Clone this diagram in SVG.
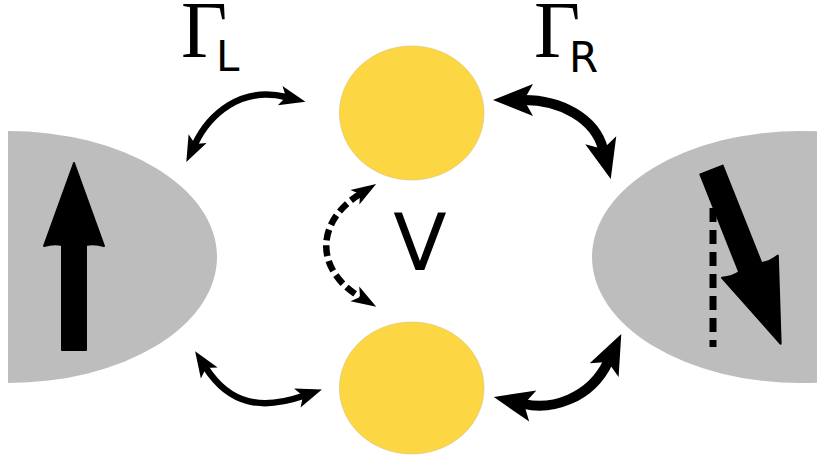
<svg xmlns="http://www.w3.org/2000/svg" width="817" height="459" viewBox="0 0 817 459">
  <style>
    .lead { fill: #bdbdbd; }
    .dot { fill: #fdd643; stroke: #d9c27a; stroke-width: 0.6; }
    .spin { fill: #000; stroke: #000; stroke-width: 2; stroke-linejoin: round; }
    .thin { fill: none; stroke: #000; stroke-width: 6.5; }
    .thick { fill: none; stroke: #000; stroke-width: 10; }
    .dash { fill: none; stroke: #000; stroke-width: 6.5; stroke-dasharray: 11 5; }
    .serif { font-family: "Liberation Serif", "DejaVu Serif", serif; fill: #000; }
    .sans { font-family: "DejaVu Sans", "Liberation Sans", sans-serif; fill: #000; }
  </style>
  <defs>
    <marker id="hs" markerUnits="userSpaceOnUse" markerWidth="30" markerHeight="24" viewBox="0 -12 30 24" refX="6" refY="0" orient="auto-start-reverse" overflow="visible">
      <path d="M0,-10 L26,0 L0,10 L6,0 Z" fill="#000"/>
    </marker>
    <marker id="hb" markerUnits="userSpaceOnUse" markerWidth="44" markerHeight="36" viewBox="0 -18 44 36" refX="9" refY="0" orient="auto-start-reverse" overflow="visible">
      <path d="M0,-16 L40,0 L0,16 L9,0 Z" fill="#000"/>
    </marker>
    <marker id="hd" markerUnits="userSpaceOnUse" markerWidth="30" markerHeight="20" viewBox="0 -10 30 20" refX="6" refY="0" orient="auto-start-reverse" overflow="visible">
      <path d="M0,-8.5 L25,0 L0,8.5 L6,0 Z" fill="#000"/>
    </marker>
    <path id="spinArrow" d="M-12,0 L-12,-105 Q-20,-107 -30,-104 L0,-187 L30,-104 Q20,-107 12,-105 L12,0 Z"/>
  </defs>

  <g id="lead-left">
    <path class="lead" d="M8,131 A209,126 0 0 1 8,383 Z"/>
    <use href="#spinArrow" class="spin" transform="translate(74,350)"/>
  </g>

  <g id="lead-right">
    <ellipse class="lead" cx="801" cy="257" rx="209" ry="126"/>
    <line x1="713" y1="186" x2="713" y2="347" stroke="#000" stroke-width="7" stroke-dasharray="14 8"/>
    <use href="#spinArrow" class="spin" transform="translate(711.5,170) rotate(158.3)"/>
  </g>

  <g id="dot-top">
    <ellipse class="dot" cx="411.7" cy="113" rx="72.3" ry="67"/>
  </g>

  <g id="dot-bottom">
    <ellipse class="dot" cx="411.7" cy="388" rx="72.3" ry="66"/>
  </g>

  <g id="labels">
    <text class="serif" x="181" y="57" font-size="80">Γ</text>
    <text class="sans" x="216" y="71" font-size="42">L</text>
    <text class="serif" x="534" y="57" font-size="80">Γ</text>
    <text class="sans" x="569" y="72" font-size="42">R</text>
    <text class="sans" x="420" y="270" font-size="78" text-anchor="middle">V</text>
  </g>

  <g id="connectors">
    <path class="thin" d="M195,144 C209,115 240,86 286,97" marker-start="url(#hs)" marker-end="url(#hs)"/>
    <path class="thick" d="M524,100 C560,100 595,118 603,149" marker-start="url(#hb)" marker-end="url(#hb)"/>
    <path class="thin" d="M206,368 C230,405 262,410 303,396" marker-start="url(#hs)" marker-end="url(#hs)"/>
    <path class="thick" d="M524,404 C550,410 590,400 608,362" marker-start="url(#hb)" marker-end="url(#hb)"/>
    <path class="dash" d="M360,194 C315,222 315,270 360,297" marker-start="url(#hd)" marker-end="url(#hd)"/>
  </g>
</svg>
